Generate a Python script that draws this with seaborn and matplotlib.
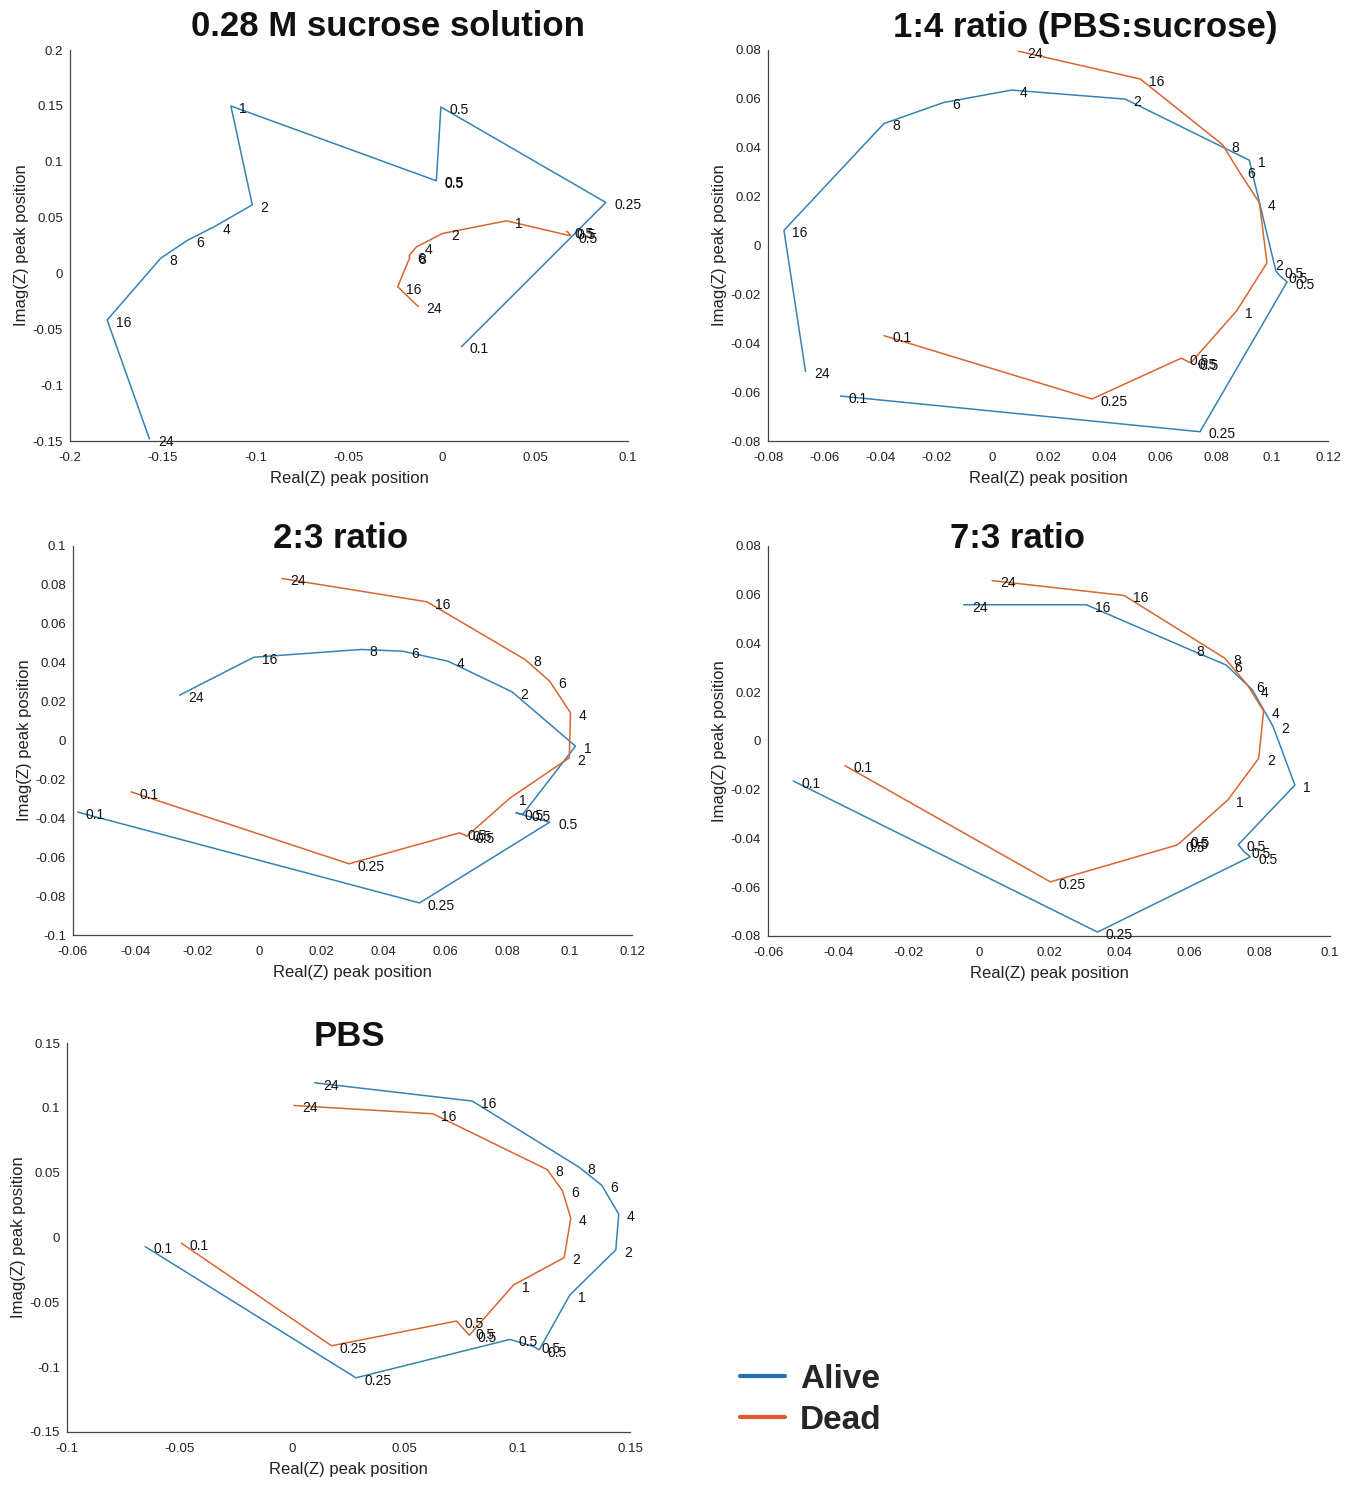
import matplotlib
matplotlib.use("Agg")
import matplotlib.pyplot as plt
import seaborn as sns
import numpy as np
import pandas as pd
from matplotlib.lines import Line2D
from matplotlib.ticker import FuncFormatter

# time point labels (hours)
time_labels = ['0.1', '0.25', '0.5', '0.5', '0.5', '1', '2', '4', '6', '8', '16', '24']
# panel 1: dead series starts at the 0.5 h points
time_labels_late = time_labels[2:]

# 0.28 M sucrose solution
sucrose_alive_x = [0.0105, 0.0881, -0.0006, -0.0030, -0.0030, -0.1135, -0.1020, -0.1226, -0.1367, -0.1512, -0.1800, -0.1573]
sucrose_alive_y = [-0.0656, 0.0635, 0.1490, 0.0835, 0.0829, 0.1499, 0.0614, 0.0417, 0.0298, 0.0137, -0.0417, -0.1481]
sucrose_dead_x = [0.0669, 0.0679, 0.0690, 0.0347, 0.0004, -0.0137, -0.0177, -0.0173, -0.0238, -0.0127]
sucrose_dead_y = [0.0376, 0.0367, 0.0337, 0.0471, 0.0358, 0.0238, 0.0158, 0.0143, -0.0119, -0.0298]

# 1:4 ratio (PBS:sucrose)
r14_alive_x = [-0.0541, 0.0743, 0.1054, 0.1030, 0.1014, 0.0919, 0.0476, 0.0070, -0.0173, -0.0386, -0.0743, -0.0666]
r14_alive_y = [-0.0616, -0.0762, -0.0149, -0.0126, -0.0105, 0.0349, 0.0599, 0.0636, 0.0585, 0.0499, 0.0062, -0.0516]
r14_dead_x = [-0.0386, 0.0357, 0.0676, 0.0703, 0.0710, 0.0874, 0.0982, 0.0955, 0.0881, 0.0824, 0.0530, 0.0095]
r14_dead_y = [-0.0369, -0.0628, -0.0461, -0.0477, -0.0480, -0.0267, -0.0071, 0.0175, 0.0305, 0.0412, 0.0681, 0.0795]

# 2:3 ratio
r23_alive_x = [-0.0585, 0.0516, 0.0935, 0.0826, 0.0848, 0.1018, 0.0814, 0.0607, 0.0461, 0.0328, -0.0018, -0.0257]
r23_alive_y = [-0.0368, -0.0835, -0.0420, -0.0372, -0.0380, -0.0029, 0.0250, 0.0408, 0.0459, 0.0468, 0.0428, 0.0233]
r23_dead_x = [-0.0413, 0.0289, 0.0644, 0.0658, 0.0668, 0.0808, 0.0998, 0.1002, 0.0935, 0.0856, 0.0540, 0.0073]
r23_dead_y = [-0.0264, -0.0634, -0.0475, -0.0483, -0.0492, -0.0295, -0.0089, 0.0142, 0.0305, 0.0416, 0.0713, 0.0833]

# 7:3 ratio
r73_alive_x = [-0.0528, 0.0338, 0.0773, 0.0754, 0.0739, 0.0900, 0.0838, 0.0779, 0.0704, 0.0596, 0.0306, -0.0043]
r73_alive_y = [-0.0164, -0.0784, -0.0475, -0.0452, -0.0425, -0.0181, 0.0059, 0.0210, 0.0312, 0.0378, 0.0559, 0.0559]
r73_dead_x = [-0.0381, 0.0204, 0.0564, 0.0575, 0.0580, 0.0709, 0.0797, 0.0811, 0.0765, 0.0700, 0.0414, 0.0038]
r73_dead_y = [-0.0101, -0.0578, -0.0427, -0.0415, -0.0408, -0.0242, -0.0071, 0.0123, 0.0230, 0.0340, 0.0597, 0.0658]

# PBS
pbs_alive_x = [-0.0653, 0.0283, 0.0967, 0.1070, 0.1097, 0.1233, 0.1437, 0.1450, 0.1375, 0.1275, 0.0800, 0.0100]
pbs_alive_y = [-0.0070, -0.1082, -0.0786, -0.0840, -0.0866, -0.0443, -0.0095, 0.0180, 0.0402, 0.0541, 0.1052, 0.1193]
pbs_dead_x = [-0.0492, 0.0175, 0.0730, 0.0775, 0.0787, 0.0983, 0.1208, 0.1237, 0.1200, 0.1133, 0.0625, 0.0008]
pbs_dead_y = [-0.0044, -0.0835, -0.0644, -0.0732, -0.0753, -0.0366, -0.0155, 0.0149, 0.0361, 0.0523, 0.0954, 0.1018]

ALIVE = '#3582b5'
DEAD = '#d9652f'

sns.set_style('white')
plt.rcParams['font.family'] = ['Liberation Sans', 'DejaVu Sans']

fig = plt.figure(figsize=(13.5, 14.85), dpi=100)
W, H = 1350, 1485


def add_axes(left, right, top, bottom):
    return fig.add_axes([left / W, 1 - bottom / H, (right - left) / W, (bottom - top) / H])


def fmt(v, pos):
    v = round(v, 4)
    if v == 0:
        return '0'
    return f'{v:g}'


panels = [
    dict(title='0.28 M sucrose solution', box=(70, 628, 50, 441), tpos=(388, 27),
         alive=(sucrose_alive_x, sucrose_alive_y, time_labels),
         dead=(sucrose_dead_x, sucrose_dead_y, time_labels_late),
         xlim=(-0.2, 0.1), xstep=0.05, ylim=(-0.15, 0.2), ystep=0.05),
    dict(title='1:4 ratio (PBS:sucrose)', box=(768, 1328, 50, 441), tpos=(1085, 27),
         alive=(r14_alive_x, r14_alive_y, time_labels),
         dead=(r14_dead_x, r14_dead_y, time_labels),
         xlim=(-0.08, 0.12), xstep=0.02, ylim=(-0.08, 0.08), ystep=0.02),
    dict(title='2:3 ratio', box=(73, 632, 546, 935), tpos=(341, 538),
         alive=(r23_alive_x, r23_alive_y, time_labels),
         dead=(r23_dead_x, r23_dead_y, time_labels),
         xlim=(-0.06, 0.12), xstep=0.02, ylim=(-0.1, 0.1), ystep=0.02),
    dict(title='7:3 ratio', box=(768, 1330, 546, 936), tpos=(1017, 538),
         alive=(r73_alive_x, r73_alive_y, time_labels),
         dead=(r73_dead_x, r73_dead_y, time_labels),
         xlim=(-0.06, 0.1), xstep=0.02, ylim=(-0.08, 0.08), ystep=0.02),
    dict(title='PBS', box=(67, 630, 1043, 1432), tpos=(349, 1036),
         alive=(pbs_alive_x, pbs_alive_y, time_labels),
         dead=(pbs_dead_x, pbs_dead_y, time_labels),
         xlim=(-0.1, 0.15), xstep=0.05, ylim=(-0.15, 0.15), ystep=0.05),
]

for p in panels:
    ax = add_axes(*p['box'])
    for key, color in (('alive', ALIVE), ('dead', DEAD)):
        xs, ys, labs = p[key]
        df = pd.DataFrame({'x': xs, 'y': ys})
        sns.lineplot(data=df, x='x', y='y', sort=False, estimator=None,
                     color=color, linewidth=1.1, ax=ax)
        for xv, yv, lab in zip(xs, ys, labs):
            ax.annotate(lab, (xv, yv), xytext=(6, -2), textcoords='offset points',
                        fontsize=10, va='center', ha='left', color='#111111')
    ax.set_xlim(*p['xlim'])
    ax.set_ylim(*p['ylim'])
    ax.set_xticks(np.arange(p['xlim'][0], p['xlim'][1] + 1e-9, p['xstep']))
    ax.set_yticks(np.arange(p['ylim'][0], p['ylim'][1] + 1e-9, p['ystep']))
    ax.xaxis.set_major_formatter(FuncFormatter(fmt))
    ax.yaxis.set_major_formatter(FuncFormatter(fmt))
    ax.tick_params(direction='in', length=4, width=0.8, colors='#333333',
                   labelsize=9.5, labelcolor='#222222')
    ax.tick_params(axis='x', pad=8)
    ax.tick_params(axis='y', pad=5)
    for side in ('top', 'right'):
        ax.spines[side].set_visible(False)
    for side in ('left', 'bottom'):
        ax.spines[side].set_color('#444444')
        ax.spines[side].set_linewidth(0.9)
    ax.set_xlabel('Real(Z) peak position', fontsize=12, color='#222222', labelpad=5)
    ax.set_ylabel('Imag(Z) peak position', fontsize=12, color='#222222', labelpad=3)
    fig.text(p['tpos'][0] / W, 1 - p['tpos'][1] / H, p['title'], fontsize=25,
             fontweight='bold', ha='center', va='center', color='#111111')

handles = [Line2D([0], [0], color='#1f6fb5', lw=3), Line2D([0], [0], color='#e05a2b', lw=3)]
fig.legend(handles, ['Alive', 'Dead'], loc='center left',
           bbox_to_anchor=(710 / W, 1 - 1400 / H), frameon=False,
           prop={'size': 24, 'weight': 'bold'}, handlelength=1.35,
           handletextpad=0.45, labelspacing=0.3)

fig.savefig('out.png', dpi=100)
